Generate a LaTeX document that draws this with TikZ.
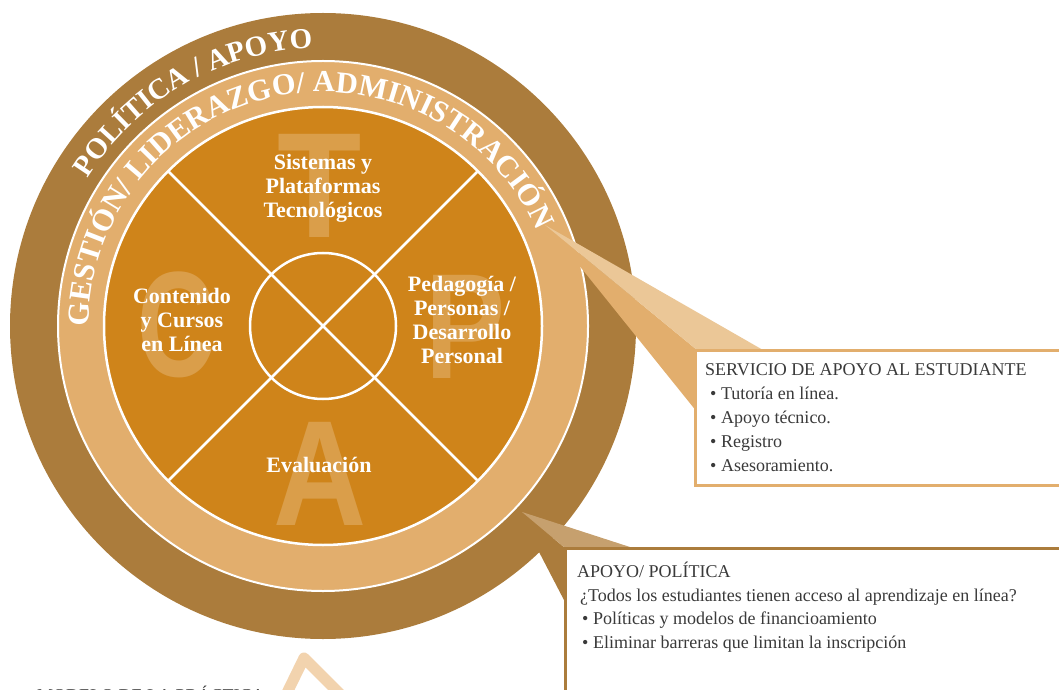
\documentclass[tikz,border=0pt]{standalone}
\usepackage{fontspec}
\setmainfont{Liberation Serif}
\newfontfamily\bigsans{Liberation Sans}
\usetikzlibrary{decorations.text}
\definecolor{darkring}{HTML}{AB7C3C}
\definecolor{lightring}{HTML}{E2AE6D}
\definecolor{core}{HTML}{CF841A}
\definecolor{ghost}{HTML}{DA9E4A}
\definecolor{wedgeA}{HTML}{EBC797}
\definecolor{wedgeB}{HTML}{C6A06E}
\definecolor{ink}{HTML}{3A3A3A}
\definecolor{peach}{HTML}{F2D3AE}
\newcommand\ringfont{\fontsize{29}{29}\selectfont\bfseries\color{white}}
\newcommand\ringfontb{\fontsize{30.5}{30.5}\selectfont\bfseries\color{white}}
\begin{document}
\begin{tikzpicture}[x=1pt,y=1pt,
  ghostletter/.style={font=\bigsans\bfseries\fontsize{150}{150}\selectfont, text=ghost, anchor=base, inner sep=0},
  sector/.style={font=\bfseries\fontsize{22}{24}\selectfont, text=white, align=center, anchor=base, inner sep=0},
  boxtext/.style={font=\fontsize{18}{24}\selectfont, text=ink, anchor=base west, inner sep=0},
  whiteline/.style={draw=white, line width=2.5},
]
\useasboundingbox (0,0) rectangle (1059,689);
\clip (0,0) rectangle (1059,689);
\coordinate (c) at (323,363);
% rings
\fill[darkring] (c) circle[radius=313];
\filldraw[fill=lightring, draw=white, line width=2] (c) circle[radius=265];
\filldraw[fill=core, draw=white, line width=2.5] (c) circle[radius=219];
% ghost letters
\node[ghostletter, xscale=0.92] (gT) at (320,451) {T};
\node[ghostletter, xscale=0.72] (gC) at (176,313) {C};
\node[ghostletter, xscale=0.8] (gP) at (466,311) {P};
\node[ghostletter, xscale=0.86] (gA) at (320,164) {A};
% cross and hub
\draw[whiteline] ([shift={(45:218)}]c) -- ([shift={(225:218)}]c);
\draw[whiteline] ([shift={(135:218)}]c) -- ([shift={(315:218)}]c);
\draw[whiteline] (c) circle[radius=73];
% sector labels (base = last line)
\node[sector] (tec) at (323,471) {Sistemas y\\Plataformas\\Tecnológicos};
\node[sector] (con) at (182,338) {Contenido\\y Cursos\\en Línea};
\node[sector] (ped) at (462,326) {Pedagogía /\\Personas /\\Desarrollo\\Personal};
\node[sector] (eva) at (319,217) {Evaluación};
% ring texts
\path[decorate, decoration={text along path, text align=center,
  text={|\ringfont|POLÍTICA / APOYO}}]
  (c) ++(180:278) arc[start angle=180, end angle=60, radius=278];
\path[decorate, decoration={text along path, text align=center,
  text={|\ringfontb|GESTIÓN/ LIDERAZGO/ ADMINISTRACIÓN}}]
  (c) ++(183:234) arc[start angle=183, end angle=21, radius=234];
% callout 1
\coordinate (t1) at (545,464);
\fill[lightring] (t1) -- (697,339) -- (697,277) -- (578,425) -- cycle;
\fill[wedgeA] (t1) -- (763,339) -- (697,339) -- cycle;
\filldraw[fill=white, draw=lightring, line width=3] (695,339) rectangle (1075,204);
\node[boxtext] (s0) at (705,314) {SERVICIO DE APOYO AL ESTUDIANTE};
\node[boxtext] (s1) at (710,290) {• Tutoría en línea.};
\node[boxtext] (s2) at (710,266) {• Apoyo técnico.};
\node[boxtext] (s3) at (710,242) {• Registro};
\node[boxtext] (s4) at (710,218) {• Asesoramiento.};
% callout 2
\coordinate (t2) at (522,177);
\fill[darkring] (t2) -- (565,141) -- (565,87) -- (538,139) -- cycle;
\fill[wedgeB] (t2) -- (633,141) -- (565,141) -- cycle;
\filldraw[fill=white, draw=darkring, line width=3] (565,141) rectangle (1075,-20);
\node[boxtext] (p0) at (577,112) {APOYO/ POLÍTICA};
\node[boxtext] (p1) at (580,88) {¿Todos los estudiantes tienen acceso al aprendizaje en línea?};
\node[boxtext] (p2) at (582,65) {• Políticas y modelos de financioamiento};
\node[boxtext] (p3) at (582,41) {• Eliminar barreras que limitan la inscripción};
% bottom cut-off elements
\node[boxtext] (m0) at (37,-12) {MODELO DE LA PRÁCTICA};
\draw[peach, line width=11, line join=round, line cap=round] (284,-10) -- (304,31) -- (345,-10);
\end{tikzpicture}
\end{document}
